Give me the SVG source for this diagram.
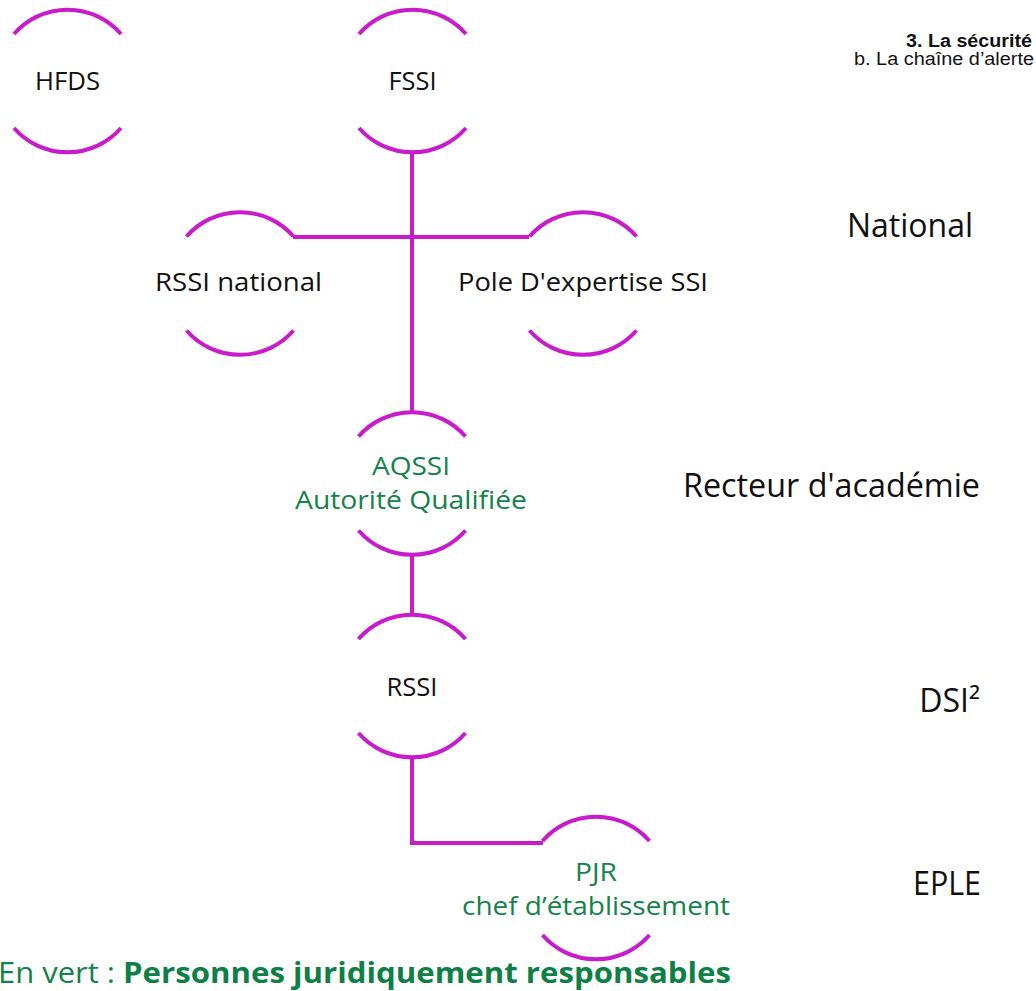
<svg xmlns="http://www.w3.org/2000/svg" width="1036" height="991" viewBox="0 0 1036 991">
<style>
.arc{fill:none;stroke:#C91ACB;stroke-width:4;stroke-linecap:butt}
.con{fill:none;stroke:#C91ACB;stroke-width:4}
.lbl{font-family:"Open Sans","DejaVu Sans",sans-serif;font-size:26px;fill:#111;text-anchor:middle}
.grn{fill:#138349}
.lvl{font-family:"Open Sans","DejaVu Sans",sans-serif;font-size:32px;fill:#111;text-anchor:end}
.hdr{font-family:"Liberation Sans",Arial,sans-serif;text-anchor:end;fill:#111}
</style>
<rect width="1036" height="991" fill="#fff"/>
<g id="header">
<text class="hdr" x="1032" y="47" font-size="17.5" font-weight="bold" textLength="126" lengthAdjust="spacingAndGlyphs">3. La sécurité</text>
<text class="hdr" x="1034" y="65" font-size="17.5" textLength="180" lengthAdjust="spacingAndGlyphs">b. La chaîne d’alerte</text>
</g>
<g id="connectors">
<path class="con" d="M412,152 V412"/>
<path class="con" d="M293,237 H529"/>
<path class="con" d="M412,554 V615"/>
<path class="con" d="M412,757 V843 H543"/>
</g>
<g id="node-hfds">
<path class="arc" d="M14,34 A71,71 0 0 1 121,34"/>
<path class="arc" d="M14,128 A71,71 0 0 0 121,128"/>
<text class="lbl" x="67.5" y="90" textLength="65" lengthAdjust="spacingAndGlyphs">HFDS</text>
</g>
<g id="node-fssi">
<path class="arc" d="M359,34 A71,71 0 0 1 466,34"/>
<path class="arc" d="M359,128 A71,71 0 0 0 466,128"/>
<text class="lbl" x="412.5" y="90" textLength="48" lengthAdjust="spacingAndGlyphs">FSSI</text>
</g>
<g id="node-rssi-national">
<path class="arc" d="M186.5,236.5 A71,71 0 0 1 293.5,236.5"/>
<path class="arc" d="M186.5,330.5 A71,71 0 0 0 293.5,330.5"/>
<text class="lbl" x="238.5" y="291" textLength="167" lengthAdjust="spacingAndGlyphs">RSSI national</text>
</g>
<g id="node-pole">
<path class="arc" d="M529.5,236.5 A71,71 0 0 1 636.5,236.5"/>
<path class="arc" d="M529.5,330.5 A71,71 0 0 0 636.5,330.5"/>
<text class="lbl" x="583" y="291" textLength="250" lengthAdjust="spacingAndGlyphs">Pole D'expertise SSI</text>
</g>
<g id="node-aqssi">
<path class="arc" d="M358.5,436.5 A71,71 0 0 1 465.5,436.5"/>
<path class="arc" d="M358.5,530.5 A71,71 0 0 0 465.5,530.5"/>
<text class="lbl grn" x="411" y="475" textLength="78" lengthAdjust="spacingAndGlyphs">AQSSI</text>
<text class="lbl grn" x="411" y="509" textLength="232" lengthAdjust="spacingAndGlyphs">Autorité Qualifiée</text>
</g>
<g id="node-rssi">
<path class="arc" d="M358.5,639 A71,71 0 0 1 465.5,639"/>
<path class="arc" d="M358.5,733 A71,71 0 0 0 465.5,733"/>
<text class="lbl" x="412" y="696" textLength="51" lengthAdjust="spacingAndGlyphs">RSSI</text>
</g>
<g id="node-pjr">
<path class="arc" d="M542.5,841 A71,71 0 0 1 649.5,841"/>
<path class="arc" d="M542.5,935 A71,71 0 0 0 649.5,935"/>
<text class="lbl grn" x="596" y="881" textLength="42" lengthAdjust="spacingAndGlyphs">PJR</text>
<text class="lbl grn" x="596" y="915" textLength="268" lengthAdjust="spacingAndGlyphs">chef d’établissement</text>
</g>
<g id="levels">
<text class="lvl" x="973" y="237">National</text>
<text class="lvl" x="980" y="497" textLength="297" lengthAdjust="spacingAndGlyphs">Recteur d'académie</text>
<text class="lvl" x="980" y="712">DSI²</text>
<text class="lvl" x="981" y="895" textLength="68" lengthAdjust="spacingAndGlyphs">EPLE</text>
</g>
<g id="legend">
<text x="-2" y="983" font-family="'Open Sans','DejaVu Sans',sans-serif" font-size="29" fill="#138349" textLength="117" lengthAdjust="spacingAndGlyphs">En vert :</text>
<text x="123" y="983" font-family="'Open Sans','DejaVu Sans',sans-serif" font-size="29" font-weight="bold" fill="#0E7F45" textLength="608" lengthAdjust="spacingAndGlyphs">Personnes  juridiquement responsables</text>
</g>
</svg>
